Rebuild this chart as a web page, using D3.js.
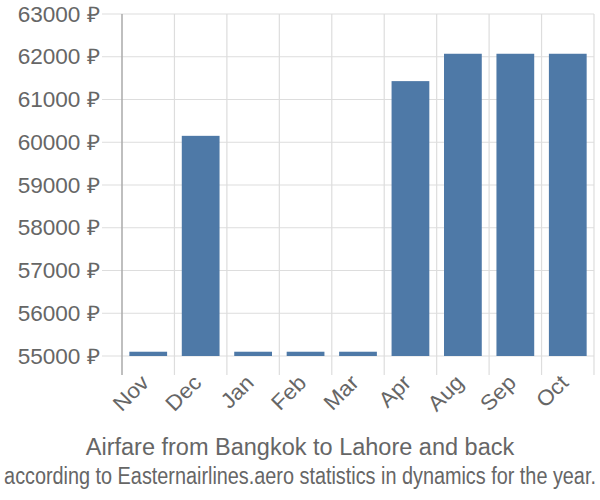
<!DOCTYPE html>
<html><head><meta charset="utf-8">
<script src="https://cdn.jsdelivr.net/npm/d3@7"></script>
<style>body{margin:0;background:#fff}svg{display:block;font-family:"Liberation Sans",Arial,sans-serif}</style>
</head><body><svg id="c" width="600" height="500"></svg>
<script>
const months = ["Nov","Dec","Jan","Feb","Mar","Apr","Aug","Sep","Oct"];
const prices = [55100, 60150, 55100, 55100, 55100, 61430, 62070, 62070, 62070];
const yTicks = [55000,56000,57000,58000,59000,60000,61000,62000,63000];
const title = "Airfare from Bangkok to Lahore and back";
const subtitle = "according to Easternairlines.aero statistics in dynamics for the year.";

const svg = d3.select("#c");
const L = 122, R = 594, T = 14, B = 356;
const x = d3.scaleBand().domain(months).range([L, R]).padding(0);
const y = d3.scaleLinear().domain([55000, 63000]).range([B, T]);

// horizontal grid
svg.append("g").selectAll("line").data(yTicks).join("line")
  .attr("x1", 102).attr("x2", R).attr("y1", d => y(d)).attr("y2", d => y(d))
  .attr("stroke", "#dddddd").attr("stroke-width", 1.2);
// vertical grid
const vx = months.map(m => x(m)).concat([R]);
svg.append("g").selectAll("line").data(vx.slice(1)).join("line")
  .attr("x1", d => d).attr("x2", d => d).attr("y1", T).attr("y2", 375)
  .attr("stroke", "#dddddd").attr("stroke-width", 1.2);
// y axis line
svg.append("line").attr("x1", L).attr("x2", L).attr("y1", T).attr("y2", 375)
  .attr("stroke", "#aaaaaa").attr("stroke-width", 1.5);

// bars
const bw = x.bandwidth() * 0.72;
svg.append("g").selectAll("rect").data(months).join("rect")
  .attr("x", (d) => x(d) + (x.bandwidth() - bw) / 2)
  .attr("width", bw)
  .attr("y", (d, i) => y(prices[i]))
  .attr("height", (d, i) => B - y(prices[i]))
  .attr("fill", "#4e79a7");

// y labels
svg.append("g").selectAll("text").data(yTicks).join("text")
  .attr("transform", d => `translate(100,${y(d)}) scale(1.05,1)`)
  .attr("dy", "0.36em")
  .attr("text-anchor", "end").attr("fill", "#666").attr("font-size", 21.5)
  .text(d => d + " ₽");

// x labels
svg.append("g").selectAll("text").data(months).join("text")
  .attr("transform", d => `translate(${x(d) + x.bandwidth()/2 + 2},${384}) rotate(-45) scale(1.05,1)`)
  .attr("text-anchor", "end").attr("fill", "#666").attr("font-size", 21.5)
  .text(d => d);

svg.append("text").attr("x", 300).attr("y", 455).attr("text-anchor", "middle")
  .attr("fill", "#666").attr("font-size", 23.5).text(title);
const sub = svg.append("text").attr("text-anchor", "middle")
  .attr("fill", "#666").attr("font-size", 23).text(subtitle);
const subLen = sub.node().getComputedTextLength();
sub.attr("transform", `translate(300,484) scale(${592 / subLen},1)`);
</script></body></html>
